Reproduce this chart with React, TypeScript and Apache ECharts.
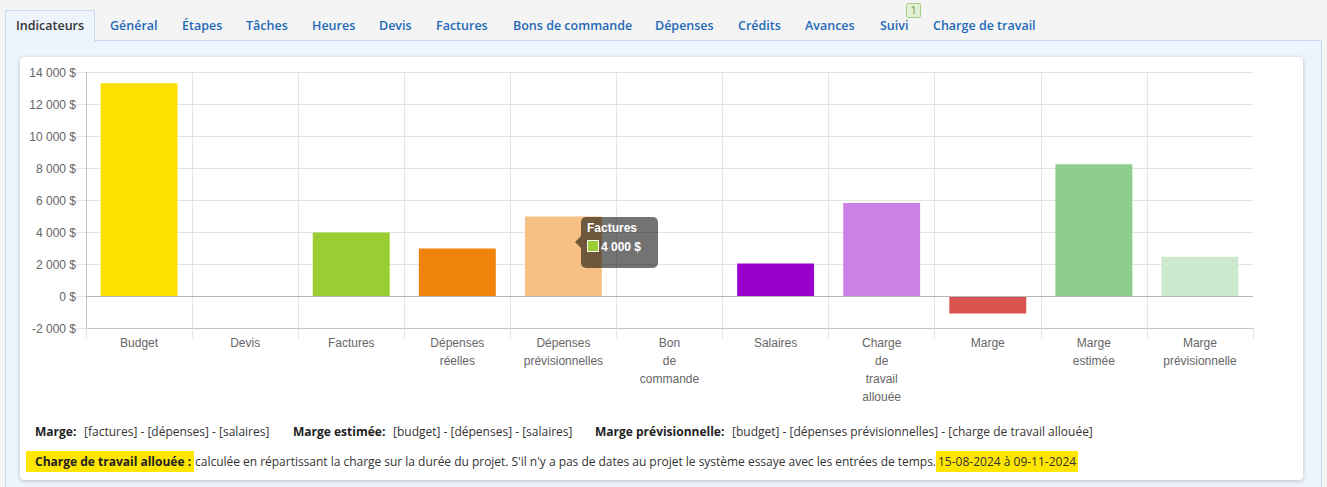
import React, { useEffect, useRef } from "react";
import * as echarts from "echarts";

const categories = [
  "Budget",
  "Devis",
  "Factures",
  "Dépenses\nréelles",
  "Dépenses\nprévisionnelles",
  "Bon\nde\ncommande",
  "Salaires",
  "Charge\nde\ntravail\nallouée",
  "Marge",
  "Marge\nestimée",
  "Marge\nprévisionnelle",
];
const values = [13330, 0, 4000, 3000, 5000, 0, 2060, 5850, -1060, 8270, 2480];
const barColors = [
  "#fce000",
  "#36a2eb",
  "#9acd32",
  "#f0830c",
  "#f7c083",
  "#4bc0c0",
  "#9900cc",
  "#cc80e6",
  "#d9534f",
  "#8dce8d",
  "#cde9cd",
];
const yMin = -2000;
const yMax = 14000;
const yInterval = 2000;

const tabs = [
  { label: "Indicateurs", x: 16 },
  { label: "Général", x: 110 },
  { label: "Étapes", x: 182 },
  { label: "Tâches", x: 246 },
  { label: "Heures", x: 312 },
  { label: "Devis", x: 379 },
  { label: "Factures", x: 436 },
  { label: "Bons de commande", x: 513 },
  { label: "Dépenses", x: 655 },
  { label: "Crédits", x: 738 },
  { label: "Avances", x: 805 },
  { label: "Suivi", x: 880 },
  { label: "Charge de travail", x: 933 },
];

const fmtMoney = (v: number) => {
  const s = Math.abs(v).toString().replace(/\B(?=(\d{3})+(?!\d))/g, " ");
  return (v < 0 ? "-" : "") + s + " $";
};

const chartFont = '"Liberation Sans", Arial, sans-serif';
const tipFill = "rgba(0,0,0,0.55)";

function Chart() {
  const ref = useRef<HTMLDivElement>(null);
  useEffect(() => {
    if (!ref.current) return;
    const chart = echarts.init(ref.current, undefined, { renderer: "svg" });
    chart.setOption({
      animation: false,
      grid: { left: 66, top: 15.5, width: 1167, height: 256, containLabel: false },
      xAxis: {
        type: "category",
        data: categories,
        boundaryGap: true,
        axisLine: { onZero: false, lineStyle: { color: "#c4c4c4", width: 1 } },
        axisTick: { show: true, length: 10, lineStyle: { color: "#e4e4e4" } },
        axisLabel: {
          interval: 0,
          color: "#666",
          fontFamily: chartFont,
          fontSize: 12,
          lineHeight: 18,
          margin: 5,
        },
        splitLine: { show: true, showMaxLine: false, lineStyle: { color: "#e4e4e4", width: 1 } },
      },
      yAxis: {
        type: "value",
        min: yMin,
        max: yMax,
        interval: yInterval,
        axisLine: { show: true, lineStyle: { color: "#c4c4c4", width: 1 } },
        axisTick: { show: true, length: 10, lineStyle: { color: "#e4e4e4" } },
        axisLabel: {
          color: "#666",
          fontFamily: chartFont,
          fontSize: 12,
          margin: 10,
          formatter: (v: number) => fmtMoney(v),
        },
        splitLine: { show: true, showMinLine: false, lineStyle: { color: "#e4e4e4", width: 1 } },
      },
      series: [
        {
          type: "bar",
          barWidth: "72.5%",
          data: values.map((v, i) => ({ value: v, itemStyle: { color: barColors[i] } })),
          markLine: {
            silent: true,
            symbol: "none",
            label: { show: false },
            lineStyle: { color: "#b5b5b5", type: "solid", width: 1 },
            data: [{ yAxis: 0 }],
          },
        },
      ],
      graphic: [
        {
          type: "polygon",
          z: 100,
          shape: { points: [[561, 179], [555, 185], [561, 191]] },
          style: { fill: tipFill },
        },
        {
          type: "rect",
          z: 100,
          shape: { x: 561, y: 160, width: 77, height: 51, r: 5 },
          style: { fill: tipFill },
        },
        {
          type: "text",
          z: 101,
          x: 567,
          y: 171,
          style: {
            text: "Factures",
            fill: "#fff",
            font: 'bold 12px "Liberation Sans", Arial, sans-serif',
            verticalAlign: "middle",
          },
        },
        {
          type: "rect",
          z: 101,
          shape: { x: 567.5, y: 183.5, width: 11, height: 11 },
          style: { fill: "#9acd32", stroke: "#fff", lineWidth: 1 },
        },
        {
          type: "text",
          z: 101,
          x: 581,
          y: 189.5,
          style: {
            text: "4 000 $",
            fill: "#fff",
            font: 'bold 12px "Liberation Sans", Arial, sans-serif',
            verticalAlign: "middle",
          },
        },
      ],
    });
    return () => chart.dispose();
  }, []);
  return <div ref={ref} style={{ position: "absolute", left: 0, top: 0, width: 1283, height: 360 }} />;
}

export default function App() {
  const yellow = "#ffe600";
  const bold: React.CSSProperties = { fontWeight: 700, color: "#222" };
  const line1Top = 366;
  return (
    <div
      style={{
        position: "fixed",
        left: 0,
        top: 0,
        width: 1327,
        height: 487,
        background: "#f4f4f4",
        overflow: "hidden",
        fontFamily: '"Open Sans", sans-serif',
      }}
    >
      <div
        style={{
          position: "absolute",
          left: 5,
          top: 40,
          width: 1315,
          height: 460,
          background: "#eef4fd",
          borderTop: "1px solid #c9d6f2",
          borderLeft: "1px solid #c9d6f2",
          borderRight: "1px solid #c9d6f2",
        }}
      />
      <div
        style={{
          position: "absolute",
          left: 5,
          top: 10,
          width: 88,
          height: 31,
          background: "#eef4fd",
          border: "1px solid #c9d6f2",
          borderBottom: "none",
          borderRadius: "2px 2px 0 0",
        }}
      />
      {tabs.map((t, i) => (
        <div
          key={t.label}
          style={{
            position: "absolute",
            left: t.x,
            top: 17,
            fontSize: 12.5,
            lineHeight: "18px",
            fontWeight: 600,
            color: i === 0 ? "#333" : "#1f6ab8",
            whiteSpace: "nowrap",
          }}
        >
          {t.label}
        </div>
      ))}
      <div
        style={{
          position: "absolute",
          left: 906,
          top: 3,
          width: 13,
          height: 13,
          background: "#e2f1d5",
          border: "1px solid #a8cf8e",
          borderRadius: 2,
          color: "#5c9a3c",
          fontSize: 10,
          lineHeight: "13px",
          textAlign: "center",
        }}
      >
        1
      </div>
      <div
        style={{
          position: "absolute",
          left: 20,
          top: 57,
          width: 1283,
          height: 423,
          background: "#fff",
          borderRadius: 4,
          boxShadow: "0 1px 4px rgba(0,0,0,0.22)",
          overflow: "hidden",
          fontSize: 12,
          color: "#333",
        }}
      >
        <Chart />
        <div style={{ position: "absolute", left: 15, top: line1Top, lineHeight: "18px", whiteSpace: "nowrap", ...bold }}>
          Marge:
        </div>
        <div style={{ position: "absolute", left: 64, top: line1Top, lineHeight: "18px", whiteSpace: "nowrap" }}>
          [factures] - [dépenses] - [salaires]
        </div>
        <div style={{ position: "absolute", left: 273, top: line1Top, lineHeight: "18px", whiteSpace: "nowrap", ...bold }}>
          Marge estimée:
        </div>
        <div style={{ position: "absolute", left: 373, top: line1Top, lineHeight: "18px", whiteSpace: "nowrap" }}>
          [budget] - [dépenses] - [salaires]
        </div>
        <div style={{ position: "absolute", left: 575, top: line1Top, lineHeight: "18px", whiteSpace: "nowrap", ...bold }}>
          Marge prévisionnelle:
        </div>
        <div style={{ position: "absolute", left: 712, top: line1Top, lineHeight: "18px", whiteSpace: "nowrap" }}>
          [budget] - [dépenses prévisionnelles] - [charge de travail allouée]
        </div>
        <div style={{ position: "absolute", left: 6, top: 394, lineHeight: "22px", whiteSpace: "nowrap" }}>
          <span style={{ background: yellow, padding: "2px 3px 2px 9px", ...bold }}>Charge de travail allouée :</span>
          <span style={{ marginLeft: 1, letterSpacing: -0.02 }}>calculée en répartissant la charge sur la durée du projet. S'il n'y a pas de dates au projet le système essaye avec les entrées de temps.</span>
          <span style={{ background: yellow, padding: "2px 2px" }}>15-08-2024 à 09-11-2024</span>
        </div>
      </div>
    </div>
  );
}
